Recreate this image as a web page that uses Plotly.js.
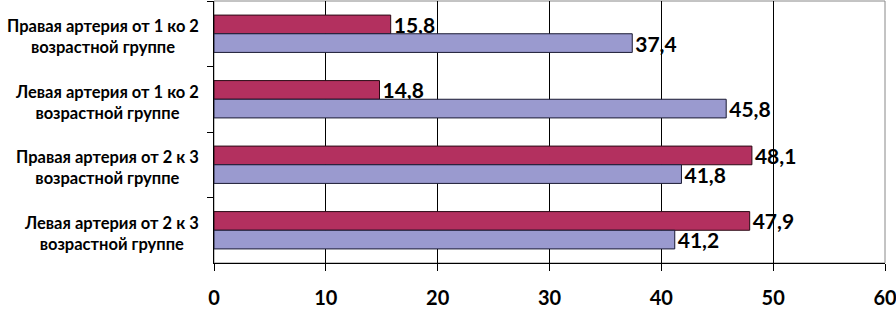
<!DOCTYPE html>
<html><head><meta charset="utf-8">
<script src="https://cdn.plot.ly/plotly-3.0.1.min.js"></script>
<style>body{margin:0;background:#fff}#c{width:896px;height:309px}</style>
</head><body><div id="c"></div>
<script>
const categories = [
  "Правая артерия от 1 ко 2<br>возрастной группе",
  "Левая артерия от 1 ко 2<br>возрастной группе",
  "Правая артерия от 2 к 3<br>возрастной группе",
  "Левая артерия от 2 к 3<br>возрастной группе"
];
const seriesRed = [15.8, 14.8, 48.1, 47.9];
const seriesBlue = [37.4, 45.8, 41.8, 41.2];
const xTicks = [0, 10, 20, 30, 40, 50, 60];

const fmt = v => v.toFixed(1).replace('.', ',');
const FAM = 'Lato, "Open Sans", sans-serif';
const lblFont = {family: FAM, size: 21, color: '#000', weight: 'bold'};

const traces = [
  {type: 'bar', orientation: 'h', y: categories, x: seriesRed, name: 'red',
   marker: {color: '#B3305F', line: {color: '#2a0a15', width: 1}},
   text: seriesRed.map(fmt), textposition: 'outside', textfont: lblFont,
   constraintext: 'none', cliponaxis: false},
  {type: 'bar', orientation: 'h', y: categories, x: seriesBlue, name: 'blue',
   marker: {color: '#9A9ACF', line: {color: '#1a1a33', width: 1}},
   text: seriesBlue.map(fmt), textposition: 'outside', textfont: lblFont,
   constraintext: 'none', cliponaxis: false}
];

const annotations = categories.map(c => ({
  xref: 'paper', yref: 'y', x: -0.019, y: c, xanchor: 'right', yanchor: 'middle',
  text: c, showarrow: false, align: 'center',
  font: {family: FAM, size: 16.5, color: '#000', weight: 'bold'}, yshift: -3
}));

const layout = {
  width: 896, height: 309,
  margin: {l: 214, r: 11, t: 1, b: 46},
  paper_bgcolor: '#fff', plot_bgcolor: '#fff',
  barmode: 'group', bargap: 0.43, bargroupgap: 0,
  showlegend: false,
  xaxis: {range: [0, 60], tickvals: xTicks, ticktext: xTicks.map(String),
    showgrid: true, gridcolor: '#000', gridwidth: 1, zeroline: false,
    showline: true, linecolor: '#000', linewidth: 1,
    ticks: 'outside', ticklen: 7, tickcolor: '#000', ticklabelstandoff: 10,
    ticklabeloverflow: 'allow',
    tickfont: {family: FAM, size: 20, color: '#000', weight: 'bold'}},
  yaxis: {type: 'category', autorange: 'reversed', showticklabels: false,
    showline: true, linecolor: '#000', linewidth: 1, showgrid: false,
    ticks: 'outside', tickson: 'boundaries', ticklen: 6, tickcolor: '#000'},
  shapes: [{type: 'rect', xref: 'paper', yref: 'paper', x0: 0, x1: 1, y0: 0, y1: 1,
    line: {color: '#888', width: 1}, layer: 'below'}],
  annotations: annotations
};
Plotly.newPlot('c', traces, layout, {displayModeBar: false, staticPlot: true});
</script></body></html>
